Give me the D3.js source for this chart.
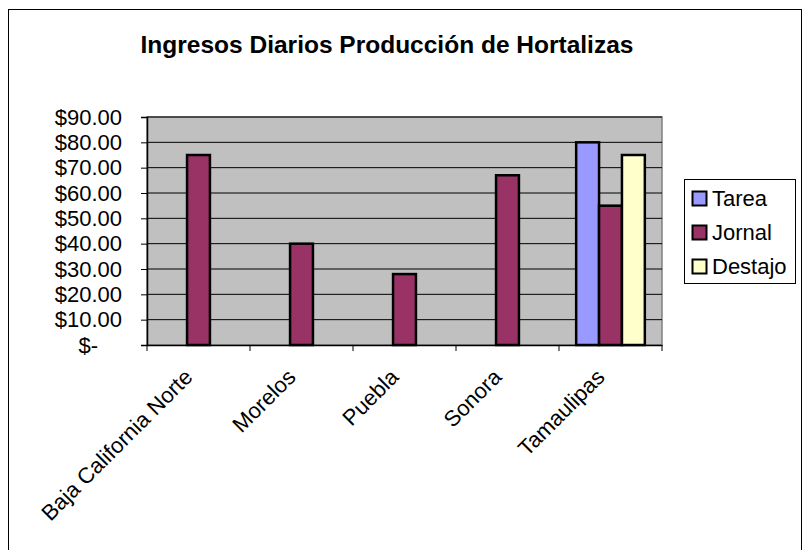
<!DOCTYPE html>
<html>
<head>
<meta charset="utf-8">
<script src="https://cdn.jsdelivr.net/npm/d3@7"></script>
<style>
  body { margin: 0; background: #fff; }
  text { font-family: Arial, "Liberation Sans", sans-serif; }
</style>
</head>
<body>
<svg width="803" height="550"></svg>
<script>
const categories = ["Baja California Norte", "Morelos", "Puebla", "Sonora", "Tamaulipas"];
const seriesNames = ["Tarea", "Jornal", "Destajo"];
const tarea = [null, null, null, null, 80];
const jornal = [75, 40, 28, 67, 55];
const destajo = [null, null, null, null, 75];
const yTicks = [0, 10, 20, 30, 40, 50, 60, 70, 80, 90];
const colors = ["#9999FF", "#993366", "#FFFFCC"];

const svg = d3.select("svg"),
  margin = { top: 117, right: 141, bottom: 205, left: 147 },
  width = 803 - margin.left - margin.right,
  height = 550 - margin.top - margin.bottom;

// outer chart frame
svg.append("rect")
  .attr("x", 8.5).attr("y", 9.5)
  .attr("width", 793).attr("height", 545)
  .attr("fill", "#fff").attr("stroke", "#000").attr("stroke-width", 1);

svg.append("text")
  .attr("x", 387).attr("y", 53)
  .attr("text-anchor", "middle")
  .style("font-size", "24.5px").style("font-weight", "bold")
  .text("Ingresos Diarios Producción de Hortalizas");

const x0 = d3.scaleBand().domain(categories).range([0, width]).paddingInner(0).paddingOuter(0);
const x1 = d3.scaleBand().domain(seriesNames).range([0, x0.bandwidth()]).paddingOuter(0.75).paddingInner(0);
const y = d3.scaleLinear().domain([0, 90]).range([height, 0]);

const g = svg.append("g")
  .attr("transform", "translate(" + margin.left + "," + margin.top + ")");

g.append("rect")
  .attr("width", width).attr("height", height)
  .attr("fill", "#C0C0C0").attr("stroke", "#808080").attr("stroke-width", 1.5);

g.selectAll("line.grid")
  .data(yTicks.filter(d => d > 0))
  .enter().append("line")
  .attr("class", "grid")
  .attr("x1", 0).attr("x2", width)
  .attr("y1", d => y(d)).attr("y2", d => y(d))
  .attr("stroke", "#000").attr("stroke-width", 1);

const rows = categories.map((c, i) => ({
  cat: c,
  vals: [tarea[i], jornal[i], destajo[i]]
}));

const grp = g.selectAll("g.cat")
  .data(rows)
  .enter().append("g")
  .attr("transform", d => "translate(" + x0(d.cat) + ",0)");

grp.selectAll("rect")
  .data(d => d.vals.map((v, j) => ({ key: seriesNames[j], v: v, j: j })).filter(d => d.v !== null))
  .enter().append("rect")
  .attr("x", d => x1(d.key))
  .attr("width", x1.bandwidth())
  .attr("y", d => y(d.v))
  .attr("height", d => height - y(d.v))
  .attr("fill", d => colors[d.j])
  .attr("stroke", "#000").attr("stroke-width", 2.5);

const yAxis = d3.axisLeft(y)
  .tickValues(yTicks)
  .tickSize(6)
  .tickPadding(24)
  .tickFormat(d => d === 0 ? "$-" : "$" + d.toFixed(2));

const ya = g.append("g").call(yAxis);
ya.select(".domain").attr("stroke", "#000").attr("stroke-width", 1.5);
ya.selectAll(".tick line").attr("stroke", "#000");
ya.selectAll(".tick text")
  .style("font-size", "22px").attr("fill", "#000")
  .attr("x", d => d === 0 ? -49 : -25);

const xAxis = d3.axisBottom(x0).tickSize(0).tickFormat("");
const xa = g.append("g")
  .attr("transform", "translate(0," + height + ")")
  .call(xAxis);
xa.select(".domain").attr("stroke", "#000").attr("stroke-width", 1.5);

// tick marks at band edges
xa.selectAll("line.edge")
  .data(d3.range(categories.length + 1))
  .enter().append("line")
  .attr("class", "edge")
  .attr("x1", i => i * x0.step()).attr("x2", i => i * x0.step())
  .attr("y1", 0).attr("y2", 6)
  .attr("stroke", "#000");

xa.selectAll("text.lbl")
  .data(categories)
  .enter().append("text")
  .attr("class", "lbl")
  .attr("transform", d => "translate(" + (x0(d) + x0.bandwidth() / 2 - 10) + ",28) rotate(-45)")
  .attr("text-anchor", "end")
  .attr("dy", "0.35em")
  .style("font-size", "22px")
  .attr("fill", "#000")
  .text(d => d);

// legend
const lg = svg.append("g").attr("transform", "translate(684,179)");
lg.append("rect")
  .attr("x", 0.5).attr("y", 0.5).attr("width", 111).attr("height", 104)
  .attr("fill", "#fff").attr("stroke", "#000");

seriesNames.forEach((s, i) => {
  const row = lg.append("g").attr("transform", "translate(0," + (19 + i * 34) + ")");
  row.append("rect")
    .attr("x", 8.5).attr("y", -6.5).attr("width", 14).attr("height", 14)
    .attr("fill", colors[i]).attr("stroke", "#000").attr("stroke-width", 2);
  row.append("text")
    .attr("x", 28).attr("y", 0).attr("dy", "0.35em")
    .style("font-size", "22px").attr("fill", "#000")
    .text(s);
});
</script>
</body>
</html>
